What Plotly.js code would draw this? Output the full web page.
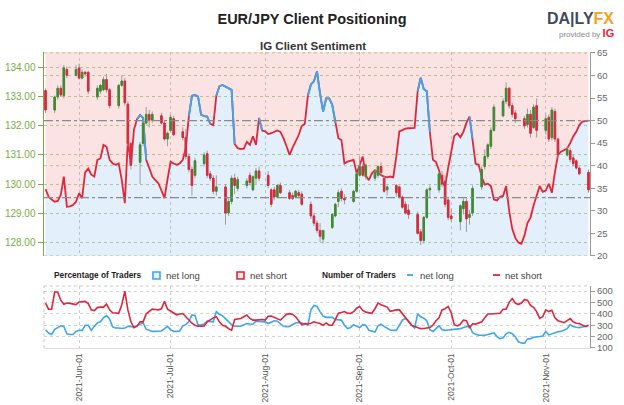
<!DOCTYPE html>
<html>
<head>
<meta charset="utf-8">
<script src="https://cdn.plot.ly/plotly-3.0.1.min.js"></script>
<style>
  html, body { margin: 0; padding: 0; background: #fff; }
  #plot { width: 624px; height: 405px; }
</style>
</head>
<body>
<div id="plot"></div>
<script>
// daily candles, EUR/JPY
var candleDates = ['2021-05-21','2021-05-24','2021-05-25','2021-05-26','2021-05-27','2021-05-28','2021-05-31','2021-06-01','2021-06-02','2021-06-03',
  '2021-06-04','2021-06-07','2021-06-08','2021-06-09','2021-06-10','2021-06-11','2021-06-14','2021-06-15','2021-06-16','2021-06-17',
  '2021-06-18','2021-06-21','2021-06-22','2021-06-23','2021-06-24','2021-06-25','2021-06-28','2021-06-29','2021-06-30','2021-07-01',
  '2021-07-02','2021-07-05','2021-07-06','2021-07-07','2021-07-08','2021-07-09','2021-07-12','2021-07-13','2021-07-14','2021-07-15',
  '2021-07-16','2021-07-19','2021-07-20','2021-07-21','2021-07-22','2021-07-23','2021-07-26','2021-07-27','2021-07-28','2021-07-29',
  '2021-07-30','2021-08-02','2021-08-03','2021-08-04','2021-08-05','2021-08-06','2021-08-09','2021-08-10','2021-08-11','2021-08-12',
  '2021-08-13','2021-08-16','2021-08-17','2021-08-18','2021-08-19','2021-08-20','2021-08-23','2021-08-24','2021-08-25','2021-08-26',
  '2021-08-27','2021-08-30','2021-08-31','2021-09-01','2021-09-02','2021-09-03','2021-09-06','2021-09-07','2021-09-08','2021-09-09',
  '2021-09-10','2021-09-13','2021-09-14','2021-09-15','2021-09-16','2021-09-17','2021-09-20','2021-09-21','2021-09-22','2021-09-23',
  '2021-09-24','2021-09-27','2021-09-28','2021-09-29','2021-09-30','2021-10-01','2021-10-04','2021-10-05','2021-10-06','2021-10-07',
  '2021-10-08','2021-10-11','2021-10-12','2021-10-13','2021-10-14','2021-10-15','2021-10-18','2021-10-19','2021-10-20','2021-10-21',
  '2021-10-22','2021-10-25','2021-10-26','2021-10-27','2021-10-28','2021-10-29','2021-11-01','2021-11-02','2021-11-03','2021-11-04',
  '2021-11-05','2021-11-08','2021-11-09','2021-11-10','2021-11-11','2021-11-12','2021-11-15'];
var openPx = [133.22,132.55,133.00,133.30,133.05,133.95,133.75,134.00,133.65,133.85,
  133.85,133.00,133.20,133.25,133.60,133.25,132.70,133.40,133.55,132.75,
  131.40,130.75,131.40,132.10,132.40,132.20,132.35,132.10,131.55,131.85,
  132.25,131.80,131.60,130.95,130.50,130.30,130.70,131.05,130.35,130.20,
  129.75,129.90,129.00,129.40,130.20,129.85,129.95,130.30,129.80,130.20,
  130.45,130.30,129.80,129.80,129.55,129.95,129.70,129.60,129.55,129.70,
  129.65,129.30,128.90,128.65,128.40,128.10,128.50,128.90,129.40,129.75,
  129.50,129.40,129.75,130.30,130.60,130.25,130.20,130.30,130.60,130.20,
  129.80,129.95,129.90,129.55,129.30,129.10,128.95,128.35,128.05,128.85,
  129.80,129.80,130.30,130.10,129.45,128.90,128.70,129.15,129.40,128.85,
  129.00,129.90,130.60,130.95,131.30,131.85,132.35,132.85,133.30,132.70,
  132.45,132.25,132.05,132.40,131.95,132.70,131.85,132.30,131.60,132.50,
  131.55,131.00,131.15,130.90,130.80,130.55,130.40];
var highPx = [133.30,133.05,133.40,133.40,134.10,134.05,134.10,134.15,133.95,133.90,
  133.90,133.40,133.45,133.70,133.80,133.30,133.45,133.75,133.65,132.85,
  131.45,131.45,132.20,132.65,132.55,132.50,132.45,132.20,131.80,132.40,
  132.35,131.95,131.90,131.05,130.60,130.90,131.10,131.15,130.45,130.30,
  130.30,130.00,129.50,130.30,130.35,130.25,130.20,130.40,130.30,130.55,
  130.60,130.45,129.85,129.90,130.00,130.05,129.80,129.70,129.80,129.80,
  129.75,129.40,129.00,128.75,128.65,128.40,129.00,129.35,129.80,129.85,
  129.65,129.80,130.40,130.95,130.70,130.70,130.50,130.65,130.75,130.30,
  129.95,130.00,129.95,129.60,129.40,129.30,129.05,128.45,128.90,129.85,
  129.95,130.40,130.45,130.30,129.50,129.15,129.30,129.50,129.50,129.10,
  129.95,130.60,131.20,131.40,131.95,132.75,132.95,133.50,133.35,132.80,
  132.55,132.35,132.60,132.55,132.75,132.95,132.40,132.40,132.65,132.60,
  131.60,131.30,131.25,131.00,130.85,130.60,130.50];
var lowPx = [132.45,132.45,132.90,133.00,132.95,133.65,133.70,133.60,133.60,133.70,
  133.10,132.90,133.10,133.20,133.15,132.60,132.60,133.35,132.70,131.30,
  130.50,130.00,131.30,132.05,131.95,132.10,132.05,131.50,131.30,131.80,
  131.65,131.50,130.85,130.40,129.60,130.20,130.60,130.20,130.10,129.65,
  129.60,128.60,128.90,129.30,129.65,129.75,129.85,129.95,129.75,130.00,
  130.10,129.85,129.20,129.45,129.50,129.65,129.45,129.45,129.50,129.50,
  129.25,128.80,128.55,128.30,128.00,127.95,128.45,128.85,129.20,129.40,
  129.30,129.35,129.70,130.25,130.25,130.15,130.10,130.20,130.30,129.70,
  129.60,129.55,129.50,129.15,128.95,128.80,128.25,127.90,127.95,128.80,
  129.55,129.70,129.90,129.20,128.75,128.70,128.40,128.95,128.35,128.60,
  128.90,129.80,130.50,130.85,131.20,131.80,132.30,132.75,132.60,132.30,
  132.10,131.90,131.95,131.60,131.90,131.60,131.70,131.45,131.50,131.45,
  130.90,130.95,130.75,130.60,130.50,130.30,129.70];
var closePx = [132.55,133.00,133.30,133.07,134.00,133.75,133.95,133.65,133.85,133.80,
  133.20,133.30,133.40,133.60,133.25,132.70,133.40,133.55,132.80,131.40,
  130.65,131.35,132.10,132.40,132.20,132.40,132.10,131.55,131.75,132.30,
  131.70,131.60,130.95,130.50,129.95,130.80,131.00,130.30,130.20,129.75,
  129.90,129.00,129.40,130.20,129.95,130.15,130.10,130.05,130.25,130.45,
  130.20,129.95,129.30,129.55,129.95,129.70,129.50,129.50,129.75,129.60,
  129.30,128.90,128.65,128.40,128.20,128.40,128.95,129.30,129.70,129.50,
  129.45,129.75,130.35,130.60,130.30,130.65,130.40,130.60,130.40,129.75,
  129.90,129.70,129.55,129.20,129.00,128.95,128.30,128.05,128.85,129.80,
  129.85,130.35,130.00,129.30,128.85,128.80,129.25,129.40,128.80,128.95,
  129.85,130.50,130.95,131.35,131.85,132.65,132.85,133.30,132.70,132.40,
  132.25,132.00,132.40,131.75,132.65,131.85,132.25,131.55,132.55,131.55,
  131.00,131.20,130.85,130.70,130.55,130.35,129.80];

// daily sentiment series, starting 2021-05-21
var firstDay = '2021-05-21';
var netLongPct = [34.8,33.1,32.5,32.0,32.2,33.5,37.6,30.9,31.0,31.3,
  32.0,33.9,32.8,38.5,39.4,38.0,37.6,41.3,41.6,44.6,
  44.2,41.3,40.5,40.2,40.5,36.8,31.7,45.7,40.0,48.0,
  50.3,51.2,50.6,41.3,39.5,37.6,36.8,36.1,34.5,32.8,
  37.0,40.9,40.5,40.2,40.5,41.3,44.0,51.0,55.5,55.7,
  55.3,51.3,51.0,50.9,49.3,49.0,55.5,57.6,57.9,57.5,
  57.1,56.8,44.8,43.9,43.7,43.8,45.3,44.6,46.5,44.6,
  50.6,47.8,47.6,47.0,47.2,47.5,47.8,47.5,46.1,44.3,
  42.4,44.0,45.5,46.8,48.8,49.3,55.5,58.0,58.7,60.9,
  56.0,52.0,54.9,54.9,53.5,49.5,46.1,45.7,40.5,40.9,
  41.1,41.3,38.3,40.0,42.0,37.8,36.8,38.3,39.0,38.5,
  37.9,37.6,37.4,37.6,37.4,42.0,47.6,47.9,48.2,48.3,
  48.4,48.4,56.5,59.5,57.0,56.5,47.5,41.3,40.8,39.0,
  36.5,35.4,39.5,43.5,46.6,47.2,46.3,47.5,49.5,50.9,
  46.0,40.4,40.2,37.5,35.8,36.0,35.5,32.5,32.3,33.1,
  33.3,35.5,30.0,26.0,24.0,23.0,22.7,24.5,27.3,28.5,
  31.2,33.3,35.5,34.2,34.5,36.0,34.0,38.5,42.4,43.1,
  43.5,43.8,45.0,46.5,47.5,49.0,49.8,49.9,50.0];
var longCount = [261,231,219,265,279,295,290,225,219,219,
  245,255,255,300,300,255,290,321,330,365,
  385,355,285,276,276,272,275,291,288,285,
  295,305,321,265,255,246,246,246,250,270,
  291,260,246,246,250,295,305,330,390,385,
  300,303,310,336,333,330,420,396,385,360,
  330,305,291,291,291,305,315,311,309,336,
  336,334,330,315,330,339,336,315,291,287,
  290,306,320,325,320,310,300,435,474,465,
  420,380,369,369,369,350,345,345,300,270,
  279,305,290,280,305,300,255,245,240,295,
  309,290,270,258,255,255,300,345,360,339,
  300,276,400,375,362,340,260,245,270,295,
  260,255,258,261,263,265,270,280,288,294,
  235,220,213,210,212,219,225,232,200,182,
  189,225,238,225,198,155,145,141,180,182,
  195,201,201,205,245,215,225,240,243,246,
  255,270,305,288,282,279,285,290,300];
var shortCount = [495,441,441,594,590,520,485,495,492,489,
  482,505,510,510,490,435,429,455,459,459,
  486,435,410,405,405,480,600,435,330,278,
  292,330,330,400,420,441,438,435,444,510,
  441,425,408,392,398,403,375,345,318,300,
  291,292,294,330,350,365,375,330,300,291,
  270,255,351,355,360,375,390,360,345,345,
  348,350,345,378,380,369,358,345,370,396,
  402,395,375,340,305,315,312,318,330,322,
  315,300,320,300,300,350,405,412,420,405,
  404,420,450,465,430,415,410,405,445,495,
  480,470,460,422,430,435,435,400,370,340,
  300,290,283,270,272,276,280,300,340,365,
  435,445,465,410,305,294,310,345,340,275,
  313,310,318,330,365,399,399,399,399,405,
  441,441,501,535,495,482,495,525,520,475,
  458,420,360,375,435,420,432,365,340,328,
  322,340,358,330,318,315,300,288,300];

var monthTicks = ['2021-06-01','2021-07-01','2021-08-01','2021-09-01','2021-10-01','2021-11-01'];
var priceTicks = [128, 129, 130, 131, 132, 133, 134];
var pctTicks = [20, 25, 30, 35, 40, 45, 50, 55, 60, 65];
var countTicks = [100, 200, 300, 400, 500, 600];

// build the daily date axis
var days = [];
var t0 = Date.parse(firstDay + 'T00:00:00Z');
for (var i = 0; i < netLongPct.length; i++) {
  days.push(new Date(t0 + i * 86400000).toISOString().slice(0, 10));
}
var netShortPct = netLongPct.map(function(v){ return 100 - v; });
// blue where the previous point is net long
var longLine = netLongPct.map(function(v, i){
  return (v > 50 || (i > 0 && netLongPct[i-1] > 50)) ? v : null;
});
var bodyHigh = openPx.map(function(o, i){ return Math.max(o, closePx[i]); });
var bodyLow = openPx.map(function(o, i){ return Math.min(o, closePx[i]); });

var RED = '#e0263a', BLUE = '#3ba7ef', GREEN = '#3f8a2f', GREEN_AX = '#78ad42';
var SANS = 'Liberation Sans, Arial, sans-serif';

var data = [
  {x: days, y: netShortPct, yaxis: 'y', type: 'scatter', mode: 'lines',
   line: {width: 0}, fill: 'tozeroy', fillcolor: 'rgba(235,60,60,0.14)', hoverinfo: 'skip'},
  {x: days, y: netLongPct, yaxis: 'y2', type: 'scatter', mode: 'lines',
   line: {width: 0}, fill: 'tozeroy', fillcolor: 'rgba(0,120,230,0.11)', hoverinfo: 'skip'},
  {x: days, y: netLongPct, yaxis: 'y2', type: 'scatter', mode: 'lines',
   line: {color: RED, width: 1.8}, hoverinfo: 'skip'},
  {x: days, y: longLine, yaxis: 'y2', type: 'scatter', mode: 'lines', connectgaps: false,
   line: {color: BLUE, width: 1.8}, hoverinfo: 'skip'},
  {type: 'candlestick', x: candleDates, open: openPx, high: highPx, low: lowPx, close: closePx,
   yaxis: 'y4', whiskerwidth: 0, hoverinfo: 'skip',
   increasing: {line: {color: '#9c9c9c', width: 1}, fillcolor: '#9c9c9c'},
   decreasing: {line: {color: '#9c9c9c', width: 1}, fillcolor: '#9c9c9c'}},
  {type: 'candlestick', x: candleDates, open: openPx, high: bodyHigh, low: bodyLow, close: closePx,
   yaxis: 'y4', whiskerwidth: 0, hoverinfo: 'skip',
   increasing: {line: {color: GREEN, width: 1}, fillcolor: GREEN},
   decreasing: {line: {color: RED, width: 1}, fillcolor: RED}},
  {x: days, y: longCount, yaxis: 'y3', type: 'scatter', mode: 'lines',
   line: {color: BLUE, width: 1.6}, hoverinfo: 'skip'},
  {x: days, y: shortCount, yaxis: 'y3', type: 'scatter', mode: 'lines',
   line: {color: RED, width: 1.6}, hoverinfo: 'skip'}
];

function hline(yref, y, color, dash, w, layer) {
  return {type: 'line', xref: 'paper', x0: 0, x1: 1, yref: yref, y0: y, y1: y,
          line: {color: color, width: w, dash: dash}, layer: layer || 'above'};
}
var shapes = [
  hline('y2', 65, '#b9d59c', 'dot', 1, 'below'),
  hline('y2', 60, '#b9d59c', 'dot', 1, 'below'),
  hline('y2', 40, '#b9d59c', 'dot', 1, 'below'),
  hline('y2', 20, '#b9d59c', 'dot', 1, 'below'),
  hline('y2', 50, '#8a8a8a', 'dashdot', 1.3),
  hline('y4', 129.53, '#8a8a8a', 'dashdot', 1.3),
  {type: 'line', xref: 'paper', x0: 0, x1: 1, yref: 'y3 domain', y0: 1, y1: 1,
   line: {color: '#c8c8c8', width: 1, dash: 'dot'}},
  {type: 'line', xref: 'paper', x0: 0, x1: 0, yref: 'y3 domain', y0: 0, y1: 1,
   line: {color: '#c8c8c8', width: 1, dash: 'dot'}},
  // legend keys
  {type: 'rect', xref: 'paper', yref: 'paper', x0: 0.1996, x1: 0.2125, y0: 0.2331, y1: 0.2568,
   fillcolor: '#e3f1fc', line: {color: BLUE, width: 1.6}},
  {type: 'rect', xref: 'paper', yref: 'paper', x0: 0.3535, x1: 0.3663, y0: 0.2331, y1: 0.2568,
   fillcolor: '#fce4e4', line: {color: RED, width: 1.6}},
  {type: 'line', xref: 'paper', yref: 'paper', x0: 0.6648, x1: 0.6758, y0: 0.2466, y1: 0.2466,
   line: {color: BLUE, width: 1.8}},
  {type: 'line', xref: 'paper', yref: 'paper', x0: 0.8223, x1: 0.8352, y0: 0.2466, y1: 0.2466,
   line: {color: RED, width: 1.8}}
];

function label(text, x, y, opts) {
  var a = {text: text, xref: 'paper', yref: 'paper', x: x, y: y, showarrow: false,
           xanchor: 'left', yanchor: 'middle', font: {size: 9.5, color: '#444', family: SANS}};
  for (var k in opts) a[k] = opts[k];
  return a;
}
var annotations = [
  label('<b>IG Client Sentiment</b>', 0.4927, 1.0203,
        {xanchor: 'center', font: {size: 11.5, color: '#333', family: SANS}}),
  label('<b>Percentage of Traders</b>', 0.0147, 0.2466, {font: {size: 8.3, color: '#222', family: SANS}}),
  label('net long', 0.2198, 0.2466),
  label('net short', 0.3736, 0.2466),
  label('<b>Number of Traders</b>', 0.5055, 0.2466, {font: {size: 8.3, color: '#222', family: SANS}}),
  label('net long', 0.685, 0.2466),
  label('net short', 0.8407, 0.2466),
  label('<b>DA|LY<span style="color:#f5a11c">FX</span></b>', 1.0476, 1.1115,
        {xanchor: 'right', font: {size: 16, color: '#3f4b5b', family: SANS}}),
  label('provided by <b><span style="color:#e3263a;font-size:11px">IG</span></b>', 1.0476, 1.0642,
        {xanchor: 'right', font: {size: 8, color: '#888', family: SANS}})
];

var layout = {
  width: 624, height: 405,
  margin: {l: 44, r: 34, t: 52, b: 57},
  paper_bgcolor: '#fff', plot_bgcolor: '#fff',
  font: {family: SANS, size: 10, color: '#555'},
  showlegend: false,
  hovermode: false,
  title: {text: '<b>EUR/JPY Client Positioning</b>', xref: 'container', x: 0.5,
          yref: 'container', y: 0.953, yanchor: 'middle', font: {size: 14.5, color: '#222'}},
  xaxis: {type: 'date', anchor: 'y3', range: ['2021-05-20 12:00', '2021-11-15 12:00'],
          tickvals: monthTicks, tickformat: '%Y-%b-%d', tickangle: -90,
          tickfont: {size: 8.5, color: '#555', family: SANS}, ticks: '', ticklabelstandoff: 1,
          showgrid: true, gridcolor: '#cfcfcf', griddash: 'dot', gridwidth: 1,
          showline: true, linecolor: '#dddddd', rangeslider: {visible: false}, fixedrange: true},
  yaxis: {domain: [0.311, 1], anchor: 'x', range: [80, 34.8], visible: false,
          showgrid: false, zeroline: false, fixedrange: true},
  yaxis2: {overlaying: 'y', side: 'right', anchor: 'x', range: [20, 65.2],
           tickvals: pctTicks, ticksuffix: '%', showgrid: false, zeroline: false,
           showline: true, linecolor: '#9a9a9a', ticks: 'outside', ticklen: 4, tickcolor: '#9a9a9a',
           tickfont: {size: 9.5, color: '#666', family: SANS}, fixedrange: true},
  yaxis3: {domain: [0, 0.2095], anchor: 'x', side: 'right', range: [100, 645],
           tickvals: countTicks, showgrid: true, gridcolor: '#d2d2d2', griddash: 'dot',
           zeroline: false, showline: true, linecolor: '#9a9a9a', ticks: 'outside',
           ticklen: 4, tickcolor: '#9a9a9a', tickfont: {size: 9.5, color: '#666', family: SANS}, fixedrange: true},
  yaxis4: {overlaying: 'y', side: 'left', anchor: 'x', range: [127.52, 134.55],
           tickvals: priceTicks, tickformat: '.2f', showgrid: true, gridcolor: '#b9d59c',
           griddash: 'dot', zeroline: false, showline: true, linecolor: GREEN_AX, linewidth: 1.5,
           ticks: 'outside', ticklen: 5, tickcolor: GREEN_AX,
           tickfont: {size: 10, color: GREEN_AX, family: SANS}, fixedrange: true},
  shapes: shapes,
  annotations: annotations
};

Plotly.newPlot('plot', data, layout, {displayModeBar: false, staticPlot: true});
</script>
</body>
</html>
